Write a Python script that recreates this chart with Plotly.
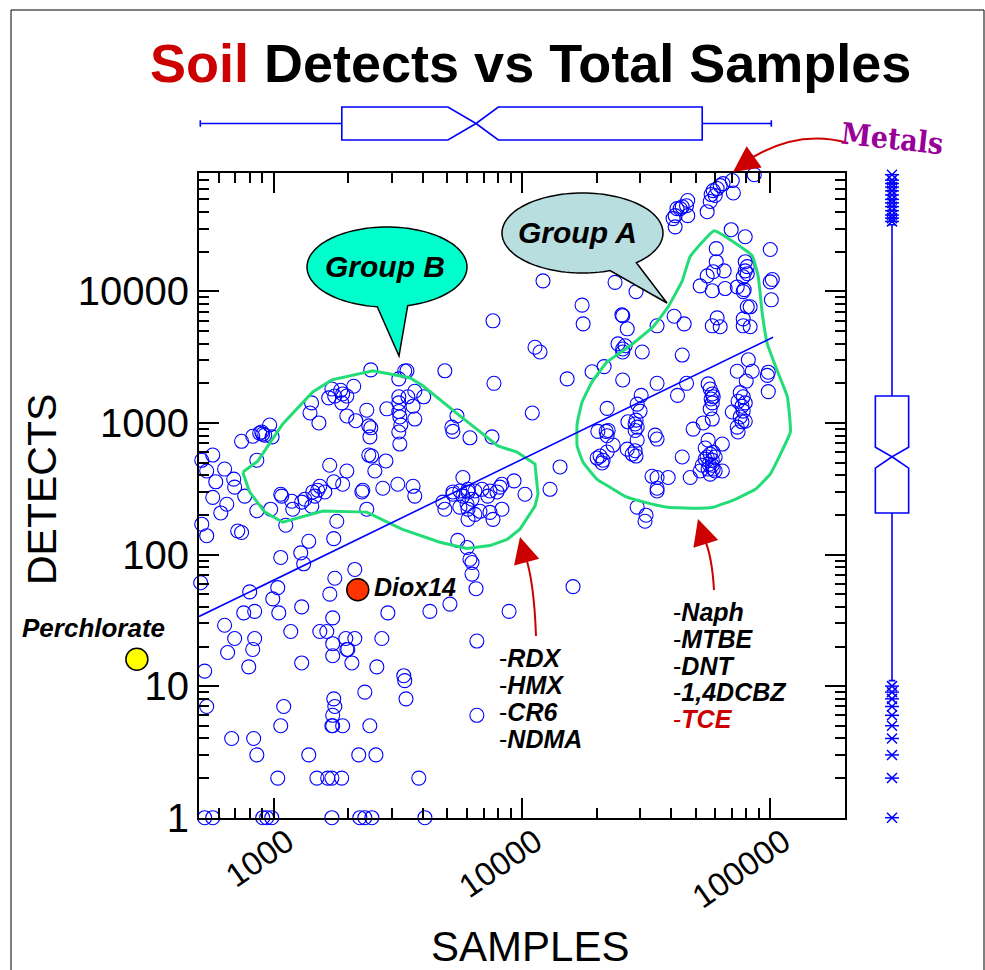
import math
import plotly.graph_objects as go

W, H = 985, 970

# ---------------- data (samples, detects) ----------------
left_samples = [2460, 3370, 3190, 2100, 1715, 1860, 1760, 1895, 1970, 1665, 1880, 1420, 1400, 1520, 1970, 2140,
                2370, 2855, 2415, 2460, 2440, 2415, 2480, 2554, 2830, 3190, 3190, 3190, 3220, 3250, 3190, 3220,
                3470, 3160, 2750, 963, 895, 920, 878, 903, 742, 823, 985, 568, 513, 537, 634, 584, 690, 855,
                1680, 1970, 1745, 1895, 2285, 1533, 1503, 1437, 1067, 696, 3700, 3700]
left_detects = [2530, 2480, 2160, 1900, 1810, 1770, 1600, 1660, 1600, 1550, 1420, 1420, 1190, 1000, 1130, 1040,
                1250, 1280, 950, 918, 784, 570, 560, 431, 514, 1580, 1420, 1220, 1110, 964, 853, 691,
                1580, 342, 319, 964, 853, 808, 837, 823, 725, 792, 784, 570, 520, 431, 446, 357, 374, 521,
                477, 431, 357, 342, 308, 330, 308, 299, 287, 325, 1740, 1070]

low_samples = [568, 647, 612, 764, 855, 972, 1077, 1118, 1182, 1193, 1296, 1334, 1423, 1464, 1606, 2265, 2370,
               1795, 1745, 513, 537, 716, 742, 1384, 1285, 1320, 1067, 2121, 1762, 508, 800, 1038, 991, 1682,
               1296, 838, 757, 1048, 2882, 634, 1728, 696, 838, 823, 652, 1171, 1533, 1636, 1951, 2121, 2726,
               1728, 1970, 1988, 1728, 2064, 1296, 793, 2602, 527, 3340, 3370, 2328, 3410, 1745, 1762, 1728,
               1715, 1728, 1895, 1097, 537, 1067, 2438, 677, 830, 855, 1384, 2200, 2580, 1038, 1492, 1650,
               1715, 1878, 3840, 527, 568, 903, 937, 982, 1715, 2222, 2328, 2485, 4063]
low_detects = [272, 241, 207, 278, 215, 221, 278, 167, 254, 221, 250, 263, 233, 278, 299, 299, 221,
               179, 132, 170, 139, 151, 147, 126, 103, 85, 95, 77, 66, 61, 52, 56, 46, 50,
               40, 37, 36, 36, 36, 29, 33, 23, 23, 19, 18, 26, 26, 26, 23, 23, 23,
               21, 19, 19, 17, 15, 15, 14, 14, 13, 12, 11, 9, 8, 8, 7, 6,
               5, 5, 5, 7, 7, 5, 5, 4, 4, 3, 3, 3, 3, 2, 2, 2,
               2, 2, 2, 1, 1, 1, 1, 1, 1, 1, 1, 1, 1]

mid_samples = [12150, 23700, 17460, 17630, 7640, 11280, 11820, 25250, 25450, 26540, 24360, 25450, 26020, 25450,
               4890, 7710, 15200, 19150, 21420, 25450, 3440, 4020, 3640, 5470, 5220, 5270, 6170, 7570, 11000,
               22020, 20210, 21830, 22240, 22020, 26700, 26540, 23280, 22020, 20630, 21210, 20070, 21010,
               14230, 9290, 12970, 8300, 5780, 3640, 6060, 6460, 6900, 7430, 8150, 5620, 5270, 5270, 5780,
               6060, 6290, 6010, 6060, 5620, 6460, 6060, 6770, 7430, 7280, 7930, 8300, 7640, 4800, 4890,
               3700, 10280, 5510, 6010, 6170, 6290, 6290, 6530, 16050, 4256, 5125, 8870, 6580, 6580]
mid_detects = [12000, 11700, 7850, 5660, 5970, 3760, 3460, 6630, 6530, 5190, 3990, 3650, 3860, 3460,
               2490, 2000, 2160, 2450, 2680, 2120, 2490, 1580, 1340, 1130, 929, 862, 771, 784, 1190,
               1290, 862, 862, 877, 800, 1020, 632, 679, 601, 560, 521, 541, 496,
               463, 363, 313, 342, 385, 330, 313, 304, 313, 304, 325, 304, 299, 287, 278,
               299, 263, 241, 221, 229, 202, 185, 213, 209, 278, 299, 221, 185, 250, 221,
               278, 287, 128, 113, 92, 87, 71, 55, 57, 37, 42, 37, 22, 6]

metal_samples = [86200, 70300, 71000, 64500, 62850, 61100, 58900, 57800, 57280, 55700, 60000, 46500, 46000,
                 44200, 43360, 42100, 41390, 46500, 41390, 40600, 31900]
metal_detects = [77000, 69500, 55900, 65900, 63600, 60400, 58300, 54400, 48200, 40300, 53500, 49000, 44700,
                 43900, 42500, 42500, 37600, 37600, 30900, 35700, 32100]

right_samples = [69600, 79270, 100000, 60600, 60600, 65200, 58900, 55700, 52200, 58400, 65800, 73600, 79300,
                 80800, 79300, 80800, 77800, 78500, 77800, 101900, 100000, 101000, 28800, 41000, 45000, 35000,
                 58400, 61100, 62850, 77800, 77800, 83000, 80800, 83000, 30500, 44200, 35000, 46000, 42300,
                 81600, 73600, 84600, 80000, 98200, 97300, 98200, 56200, 57280, 58400, 58900, 57800, 58400,
                 57280, 58400, 53700, 48900, 75700, 77800, 74200, 79300, 76900, 77800, 75700, 79300, 76900,
                 73600, 70300, 74200, 30200, 29100, 29900, 28800, 29100, 28550, 28550, 29100, 28550, 27800,
                 28800, 34400, 35000, 44200, 56200, 64100, 54700, 58900, 57280, 55700, 58400, 53200, 56200,
                 60000, 57280, 64100, 52200, 58400, 54700, 60000, 56700, 58900, 33400, 35000, 38800, 47600,
                 35000, 35000, 29100, 31600, 31300]
right_detects = [29400, 26000, 20800, 21100, 16800, 14300, 14100, 13100, 11000, 10100, 10500, 10800, 16800,
                 15400, 14300, 13600, 12900, 10300, 9950, 12300, 11800, 8620, 9950, 6470, 5660, 5470,
                 5470, 6280, 5380, 6180, 5470, 5380, 7630, 7630, 3460, 3280, 2000, 2000, 1620,
                 3020, 2470, 2470, 2080, 2430, 2300, 1730, 1980, 1810, 1660, 1580, 1520, 1420,
                 1280, 1070, 1000, 898, 1700, 1580, 1460, 1420, 1340, 1230, 1110, 1030, 1020,
                 929, 1210, 853, 1620, 1390, 1230, 1050, 929, 982, 877, 740, 615, 580,
                 560, 808, 754, 551, 740, 691, 645, 597, 580, 551, 521, 477, 446,
                 431, 408, 431, 431, 477, 531, 551, 486, 446, 393, 385, 385, 385,
                 319, 304, 229, 199, 179]

# highlighted compounds
perchlorate = (281, 16)
diox14 = (2180, 54)

# power-law fit end points
fit_samples = [500, 102600]
fit_detects = [33.8, 4480]

# group outlines (samples, detects)
groupB_samples = [750, 862, 1087, 1436, 1714, 2506, 3532, 3988, 5623, 8000, 9550, 11280, 11600, 11280, 9810,
                  8710, 7430, 6000, 4670, 3532, 3280, 2370, 1577, 1087, 920, 800, 750]
groupB_detects = [422, 512, 982, 1722, 2127, 2490, 2203, 1914, 1132, 668, 601, 487, 288, 233, 156,
                  130, 117, 111, 124, 148, 156, 210, 214, 176, 210, 298, 422]
groupA_samples = [59430, 84540, 89480, 92870, 97290, 106700, 117200, 120500, 100000, 87090, 72300, 58900,
                  48420, 38420, 31350, 26020, 22620, 20060, 17620, 16670, 16670, 17460, 19150, 22020, 27240,
                  33730, 38800, 44200, 47530, 59430]
groupA_detects = [28900, 18660, 12910, 6750, 3990, 2490, 1578, 855, 409, 313, 263, 229,
                  225, 229, 249, 277, 325, 373, 503, 668, 982, 1444, 2052, 2913, 3855,
                  5380, 7640, 12020, 18330, 28900]

# marginal box statistics
samples_stats = dict(lowerfence=506, q1=1880, median=6530, q3=53200, upperfence=101000, notchspan=1500)
detects_stats = dict(lowerfence=11, q1=207, median=553, q3=1600, upperfence=32100, notchspan=100)
detects_outliers = [34000, 36000, 38000, 41000, 44000, 47000, 50000, 54000, 58000, 62000, 66000, 70000, 77000,
                    10, 9, 8, 7, 6, 5, 4, 3, 2, 1]

x_ticks = [1000, 10000, 100000]
y_ticks = [1, 10, 100, 1000, 10000]

# ---------------- figure ----------------
FONT = "Liberation Sans, Arial, sans-serif"
BLUE = "#0000FF"
GREEN = "#22DD77"
RED = "#CC0000"

X_LEFT, X_RIGHT = 199, 845          # plot frame in px
LOG_X0, LOG_X1 = math.log10(500), math.log10(200000)


def PX(x):
    return x / W


def PY(y):
    return 1 - y / H


fig = go.Figure()

all_s = left_samples + low_samples + mid_samples + metal_samples + right_samples
all_d = left_detects + low_detects + mid_detects + metal_detects + right_detects
fig.add_trace(go.Scatter(x=all_s, y=all_d, mode="markers", cliponaxis=False,
                         marker=dict(symbol="circle-open", size=14, color=BLUE, line=dict(width=1.1, color=BLUE)),
                         hoverinfo="x+y"))

fig.add_trace(go.Scatter(x=groupB_samples, y=groupB_detects, mode="lines",
                         line=dict(color=GREEN, width=3), hoverinfo="skip"))
fig.add_trace(go.Scatter(x=groupA_samples, y=groupA_detects, mode="lines", line_shape="spline",
                         line=dict(color=GREEN, width=3, smoothing=0.3), hoverinfo="skip"))
fig.add_trace(go.Scatter(x=fit_samples, y=fit_detects, mode="lines",
                         line=dict(color=BLUE, width=1.6), hoverinfo="skip"))

fig.add_trace(go.Scatter(x=[diox14[0]], y=[diox14[1]], mode="markers", cliponaxis=False,
                         marker=dict(size=22, color="#FF3300", line=dict(color="black", width=1.5))))
# perchlorate lies left of the frame: same log scale continued on a hidden axis
fig.add_trace(go.Scatter(x=[perchlorate[0]], y=[perchlorate[1]], xaxis="x4", yaxis="y", mode="markers",
                         cliponaxis=False,
                         marker=dict(size=22, color="#FFFF00", line=dict(color="black", width=1.5))))

# top marginal box (samples)
fig.add_trace(go.Box(orientation="h", y=[0], xaxis="x", yaxis="y2",
                     q1=[samples_stats["q1"]], median=[samples_stats["median"]], q3=[samples_stats["q3"]],
                     lowerfence=[samples_stats["lowerfence"]], upperfence=[samples_stats["upperfence"]],
                     notchspan=[samples_stats["notchspan"]], notched=True, notchwidth=0.5,
                     width=0.62, whiskerwidth=0.2, boxpoints=False,
                     line=dict(color=BLUE, width=1.6), fillcolor="rgba(0,0,0,0)"))
# right marginal box (detects)
fig.add_trace(go.Box(orientation="v", x=[0], xaxis="x3", yaxis="y",
                     q1=[detects_stats["q1"]], median=[detects_stats["median"]], q3=[detects_stats["q3"]],
                     lowerfence=[detects_stats["lowerfence"]], upperfence=[detects_stats["upperfence"]],
                     notchspan=[detects_stats["notchspan"]], notched=True, notchwidth=0.5,
                     width=0.52, whiskerwidth=0.2, boxpoints=False,
                     line=dict(color=BLUE, width=1.6), fillcolor="rgba(0,0,0,0)"))
for sym in ["x-thin-open", "line-ew-open"]:
    fig.add_trace(go.Scatter(x=[0] * len(detects_outliers), y=detects_outliers, xaxis="x3", yaxis="y",
                             mode="markers", cliponaxis=False,
                             marker=dict(symbol=sym, size=10, color=BLUE, line=dict(color=BLUE, width=1.5))))

minor_x = [m * 10 ** e for e in range(2, 6) for m in range(2, 10) if 500 < m * 10 ** e < 200000]
minor_y = [m * 10 ** e for e in range(0, 5) for m in range(2, 10) if m * 10 ** e < 80000]

axis_common = dict(ticks="inside", ticklen=20, tickwidth=1.5, tickcolor="black", showline=True,
                   linewidth=2, linecolor="black", mirror="ticks", showgrid=False, zeroline=False)

decade_px = (X_RIGHT - X_LEFT) / (LOG_X1 - LOG_X0)

fig.update_layout(
    width=W, height=H, margin=dict(l=0, r=0, t=0, b=0, autoexpand=False),
    paper_bgcolor="white", plot_bgcolor="rgba(0,0,0,0)", showlegend=False,
    font=dict(family=FONT, color="black"),
    xaxis=dict(type="log", domain=[X_LEFT / W, X_RIGHT / W], range=[LOG_X0, LOG_X1],
               tickvals=x_ticks, ticktext=[str(v) for v in x_ticks], tickangle=-35,
               tickfont=dict(size=33, family=FONT), anchor="y", ticklabelshift=13, ticklabelstandoff=-10,
               minor=dict(tickvals=minor_x, ticks="inside", ticklen=10, tickwidth=1.5, tickcolor="black",
                          showgrid=False),
               **axis_common),
    yaxis=dict(type="log", domain=[1 - 817.7 / H, 1 - 172.5 / H], range=[0, math.log10(80000)],
               tickvals=y_ticks, ticktext=[str(v) for v in y_ticks], tickfont=dict(size=40, family=FONT),
               anchor="x",
               minor=dict(tickvals=minor_y, ticks="inside", ticklen=10, tickwidth=1.5, tickcolor="black",
                          showgrid=False),
               **axis_common),
    yaxis2=dict(domain=[1 - 150 / H, 1 - 97 / H], range=[-0.5, 0.5], visible=False, anchor="x",
                fixedrange=True),
    xaxis3=dict(domain=[860 / W, 924 / W], range=[-0.5, 0.5], visible=False, anchor="y", fixedrange=True),
    xaxis4=dict(type="log", domain=[0, X_LEFT / W], range=[LOG_X0 - X_LEFT / decade_px, LOG_X0],
                visible=False, anchor="y", fixedrange=True),
)


# ---------------- decorations ----------------
def bubble_path(cx, cy, rx, ry, a0, a1, tip):
    pts = []
    inserted = False
    for a in range(0, 360, 3):
        if a0 < a < a1:
            if not inserted:
                pts.append((cx + rx * math.cos(math.radians(a0)), cy + ry * math.sin(math.radians(a0))))
                pts.append(tip)
                pts.append((cx + rx * math.cos(math.radians(a1)), cy + ry * math.sin(math.radians(a1))))
                inserted = True
            continue
        pts.append((cx + rx * math.cos(math.radians(a)), cy + ry * math.sin(math.radians(a))))
    return "M " + " L ".join(f"{PX(x):.5f},{PY(y):.5f}" for x, y in pts) + " Z"


shapes = []
shapes.append(dict(type="path", xref="paper", yref="paper",
                   path=bubble_path(387, 267, 80, 40, 75, 97, (399, 356)),
                   fillcolor="#00FFCC", line=dict(color="black", width=1.5), layer="above"))
shapes.append(dict(type="path", xref="paper", yref="paper",
                   path=bubble_path(582.5, 233, 80.5, 40, 48, 70, (667, 303)),
                   fillcolor="#B8DEE0", line=dict(color="black", width=1.5), layer="above"))


def curve(p0, c, p1):
    return f"M {PX(p0[0]):.5f},{PY(p0[1]):.5f} Q {PX(c[0]):.5f},{PY(c[1]):.5f} {PX(p1[0]):.5f},{PY(p1[1]):.5f}"


for p0, c, p1 in [((848, 143), (795, 128), (744, 163)),
                  ((536, 636), (534, 580), (525, 555)),
                  ((714, 590), (712, 555), (704, 538))]:
    shapes.append(dict(type="path", xref="paper", yref="paper", path=curve(p0, c, p1),
                       line=dict(color=RED, width=2), layer="above"))

# outer frame
shapes.append(dict(type="rect", xref="paper", yref="paper", x0=PX(11), x1=PX(984), y0=PY(975), y1=PY(10),
                   line=dict(color="black", width=1)))
fig.update_layout(shapes=shapes)

ann = []


def text(x, y, s, size, xanchor="center", color="black", angle=0, family=FONT):
    ann.append(dict(x=PX(x), y=PY(y), xref="paper", yref="paper", text=s, showarrow=False,
                    xanchor=xanchor, yanchor="middle", textangle=angle,
                    font=dict(size=size, color=color, family=family)))


text(530, 63, "<b><span style='color:#CC0000'>Soil</span> Detects vs Total Samples</b>", 54)
text(530, 946, "SAMPLES", 42)
text(42, 490, "DETECTS", 41, angle=-90)
text(385, 266, "<b><i>Group B</i></b>", 30)
text(577, 232, "<b><i>Group A</i></b>", 30)
text(93, 628, "<b><i>Perchlorate</i></b>", 26)
text(372, 587, "<b><i>Diox14</i></b>", 25, xanchor="left")
text(892, 139, "<b>Metals</b>", 30, color="#990099", angle=6,
     family="DejaVu Serif Condensed, Liberation Serif, serif")

for i, s in enumerate(["RDX", "HMX", "CR6", "NDMA"]):
    text(497, 658 + 27 * i, f"-<b><i>{s}</i></b>", 25, xanchor="left")
for i, s in enumerate(["Naph", "MTBE", "DNT", "1,4DCBZ", "TCE"]):
    text(671, 612 + 26.8 * i, f"-<b><i>{s}</i></b>", 25, xanchor="left", color=RED if s == "TCE" else "black")

# arrow heads
for tip, (ax, ay) in [((733, 172), (14, -10)), ((520, 537), (5, 19)), ((698, 519), (6, 19))]:
    ann.append(dict(x=PX(tip[0]), y=PY(tip[1]), xref="paper", yref="paper", text="", showarrow=True,
                    ax=ax, ay=ay, arrowhead=2, arrowsize=2.6, arrowwidth=2, arrowcolor=RED, standoff=0))

fig.update_layout(annotations=ann)

fig.write_html("out.html")
